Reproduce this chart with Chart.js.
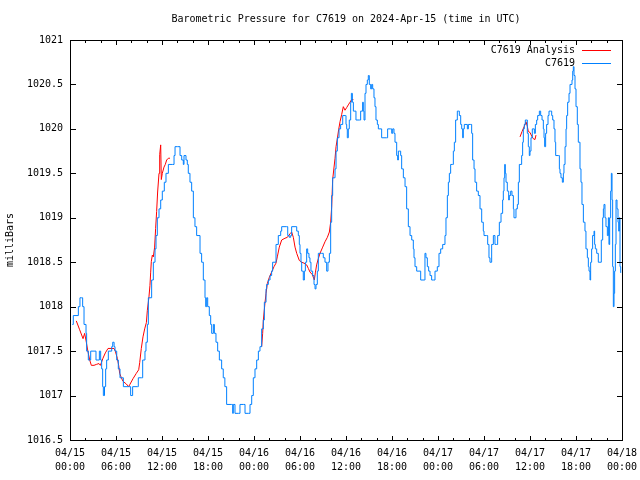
<!DOCTYPE html>
<html>
<head>
<meta charset="utf-8">
<title>Barometric Pressure for C7619</title>
<script src="https://cdn.jsdelivr.net/npm/chart.js@4.4.1/dist/chart.umd.min.js"></script>
<style>
  html, body { margin: 0; padding: 0; background: #fff; }
  #wrap { width: 640px; height: 480px; }
</style>
</head>
<body>
<div id="wrap"><canvas id="pressureChart" width="640" height="480"></canvas></div>
<script>
// hours since 2024-04-15 00:00 UTC
const stationHours = [
  0.3, 0.43, 1.09, 1.3, 1.52, 1.65, 1.83, 2.09, 2.17, 2.39, 2.7, 3.26, 3.39, 3.83, 4.0,
  4.13, 4.26, 4.35, 4.5, 4.65, 4.78, 5.0, 5.44, 5.57, 5.75, 5.87, 6.09, 6.3, 6.52, 6.96,
  7.61, 7.91, 8.17, 8.78, 8.91, 9.35, 9.48, 9.78, 9.91, 10.09, 10.22, 10.43, 10.65, 10.87, 11.09,
  11.22, 11.39, 11.61, 11.83, 12.04, 12.3, 12.52, 12.83, 13.39, 13.57, 13.7, 14.0, 14.35, 14.57, 14.78,
  14.87, 15.13, 15.3, 15.43, 15.65, 15.87, 16.09, 16.3, 16.52, 16.96, 17.17, 17.39, 17.61, 17.7, 17.83,
  17.96, 18.17, 18.35, 18.48, 18.7, 18.83, 19.04, 19.26, 19.48, 19.78, 19.99, 20.2, 20.43, 21.09, 21.22,
  21.3, 21.52, 21.96, 22.17, 22.61, 22.83, 23.26, 23.48, 23.7, 23.91, 24.13, 24.35, 24.57, 24.78, 25.0,
  25.22, 25.35, 25.57, 25.65, 25.87, 26.09, 26.3, 26.43, 26.74, 26.87, 27.17, 27.48, 27.61, 28.26, 28.4,
  28.6, 28.78, 28.91, 29.35, 29.57, 29.78, 29.91, 30.0, 30.13, 30.22, 30.43, 30.57, 30.7, 30.87, 31.0,
  31.17, 31.3, 31.43, 31.65, 31.83, 31.96, 32.09, 32.26, 32.39, 32.83, 33.04, 33.26, 33.48, 33.65, 33.83,
  34.0, 34.13, 34.26, 34.57, 34.7, 34.87, 35.09, 35.3, 35.57, 35.91, 36.0, 36.09, 36.17, 36.3, 36.43,
  36.61, 36.7, 36.83, 36.96, 37.17, 37.3, 37.74, 37.91, 38.17, 38.26, 38.35, 38.48, 38.61, 38.78, 38.91,
  39.04, 39.22, 39.35, 39.48, 39.65, 39.78, 39.91, 40.09, 40.22, 40.65, 41.3, 41.43, 41.83, 41.96, 42.09,
  42.26, 42.39, 42.61, 42.74, 42.83, 42.96, 43.13, 43.26, 43.48, 43.7, 43.91, 44.13, 44.35, 44.57, 44.78,
  44.87, 45.0, 45.22, 45.74, 46.22, 46.3, 46.43, 46.61, 46.78, 46.96, 47.17, 47.39, 47.61, 47.74, 47.91,
  48.13, 48.35, 48.61, 48.78, 48.91, 49.04, 49.22, 49.35, 49.48, 49.65, 49.91, 50.0, 50.13, 50.3, 50.52,
  50.65, 50.78, 50.96, 51.09, 51.22, 51.3, 51.43, 51.83, 51.96, 52.26, 52.39, 52.52, 52.7, 52.83, 53.04,
  53.26, 53.48, 53.7, 53.91, 54.0, 54.35, 54.48, 54.65, 54.78, 55.0, 55.22, 55.43, 55.65, 55.78, 56.0,
  56.22, 56.43, 56.52, 56.61, 56.7, 56.78, 56.87, 57.04, 57.22, 57.3, 57.48, 57.65, 57.83, 57.91, 58.17,
  58.35, 58.48, 58.61, 58.91, 59.04, 59.13, 59.26, 59.39, 59.57, 59.65, 59.78, 59.91, 60.0, 60.13, 60.3,
  60.57, 60.7, 60.87, 61.0, 61.22, 61.39, 61.57, 61.74, 61.83, 61.91, 62.04, 62.17, 62.35, 62.48, 62.7,
  62.83, 62.96, 63.13, 63.26, 63.35, 63.7, 63.83, 63.91, 64.04, 64.22, 64.35, 64.43, 64.57, 64.7, 64.78,
  64.91, 65.09, 65.22, 65.48, 65.57, 65.65, 65.74, 65.87, 66.0, 66.17, 66.3, 66.52, 66.65, 66.78, 66.96,
  67.17, 67.3, 67.48, 67.61, 67.7, 67.83, 67.91, 68.04, 68.17, 68.35, 68.43, 68.52, 68.7, 68.91, 69.13,
  69.3, 69.48, 69.57, 69.65, 69.78, 69.91, 70.09, 70.22, 70.3, 70.39, 70.52, 70.61, 70.7, 70.78, 70.87,
  70.96, 71.04, 71.13, 71.22, 71.35, 71.48, 71.57, 71.65, 71.74, 71.83
];
const stationValues = [
  1017.8, 1017.9, 1018.0, 1018.1, 1018.1, 1018.0, 1017.8, 1017.7, 1017.5, 1017.4, 1017.5, 1017.5, 1017.4, 1017.5, 1017.4,
  1017.3, 1017.1, 1017.0, 1017.1, 1017.3, 1017.4, 1017.5, 1017.55, 1017.6, 1017.55, 1017.5, 1017.4, 1017.3, 1017.2, 1017.1,
  1017.1, 1017.0, 1017.1, 1017.1, 1017.2, 1017.2, 1017.4, 1017.5, 1017.6, 1017.8, 1018.1, 1018.1, 1018.3, 1018.5, 1018.65,
  1018.8, 1019.0, 1019.1, 1019.2, 1019.3, 1019.4, 1019.5, 1019.6, 1019.6, 1019.7, 1019.8, 1019.8, 1019.7, 1019.65, 1019.6,
  1019.7, 1019.65, 1019.6, 1019.5, 1019.4, 1019.3, 1019.0, 1018.9, 1018.8, 1018.6, 1018.5, 1018.3, 1018.1, 1018.0, 1018.1,
  1018.0, 1017.9, 1017.8, 1017.7, 1017.8, 1017.7, 1017.6, 1017.5, 1017.4, 1017.3, 1017.2, 1017.1, 1016.9, 1016.9, 1016.8,
  1016.9, 1016.8, 1016.8, 1016.9, 1016.9, 1016.8, 1016.8, 1016.9, 1017.0, 1017.2, 1017.3, 1017.4, 1017.5, 1017.55, 1017.75,
  1017.85, 1018.05, 1018.2, 1018.25, 1018.3, 1018.35, 1018.4, 1018.5, 1018.5, 1018.7, 1018.8, 1018.85, 1018.9, 1018.9, 1018.8,
  1018.78, 1018.8, 1018.9, 1018.9, 1018.85, 1018.8, 1018.7, 1018.6, 1018.5, 1018.4, 1018.3, 1018.4, 1018.5, 1018.65, 1018.6,
  1018.55, 1018.5, 1018.4, 1018.35, 1018.25, 1018.2, 1018.25, 1018.4, 1018.6, 1018.6, 1018.55, 1018.5, 1018.4, 1018.5, 1018.6,
  1018.95, 1019.25, 1019.45, 1019.55, 1019.75, 1019.9, 1020.0, 1020.05, 1020.15, 1020.15, 1020.05, 1020.0, 1019.9, 1020.0, 1020.1,
  1020.3, 1020.4, 1020.3, 1020.2, 1020.2, 1020.1, 1020.1, 1020.2, 1020.3, 1020.2, 1020.1, 1020.4, 1020.5, 1020.55, 1020.6,
  1020.5, 1020.45, 1020.5, 1020.45, 1020.35, 1020.25, 1020.1, 1020.05, 1020.0, 1019.9, 1019.9, 1020.0, 1020.0, 1019.95, 1020.0,
  1019.95, 1019.85, 1019.7, 1019.65, 1019.75, 1019.75, 1019.7, 1019.55, 1019.45, 1019.35, 1019.1, 1018.9, 1018.8, 1018.75, 1018.65,
  1018.55, 1018.45, 1018.4, 1018.3, 1018.3, 1018.6, 1018.55, 1018.45, 1018.4, 1018.35, 1018.3, 1018.3, 1018.4, 1018.4, 1018.45,
  1018.6, 1018.65, 1018.7, 1018.7, 1018.8, 1019.0, 1019.25, 1019.4, 1019.5, 1019.6, 1019.6, 1019.75, 1019.85, 1020.1, 1020.2,
  1020.2, 1020.15, 1020.05, 1020.0, 1019.9, 1020.0, 1020.05, 1020.0, 1020.05, 1020.05, 1019.95, 1019.65, 1019.55, 1019.4, 1019.3,
  1019.25, 1019.1, 1018.95, 1018.85, 1018.8, 1018.8, 1018.7, 1018.55, 1018.5, 1018.7, 1018.8, 1018.7, 1018.7, 1018.8, 1018.95,
  1019.05, 1019.2, 1019.3, 1019.45, 1019.6, 1019.5, 1019.4, 1019.3, 1019.2, 1019.25, 1019.3, 1019.25, 1019.1, 1019.0, 1019.1,
  1019.15, 1019.4, 1019.6, 1019.7, 1019.85, 1020.0, 1020.05, 1020.1, 1020.1, 1019.95, 1019.8, 1019.7, 1019.75, 1019.9, 1020.0,
  1019.95, 1020.05, 1020.1, 1020.15, 1020.2, 1020.15, 1020.1, 1020.0, 1019.9, 1019.8, 1019.95, 1020.05, 1020.15, 1020.2, 1020.2,
  1020.15, 1020.1, 1020.0, 1019.85, 1019.7, 1019.7, 1019.55, 1019.5, 1019.45, 1019.4, 1019.5, 1019.6, 1019.8, 1020.0, 1020.15,
  1020.3, 1020.4, 1020.5, 1020.55, 1020.65, 1020.7, 1020.6, 1020.45, 1020.25, 1020.05, 1019.85, 1019.55, 1019.4, 1019.15, 1018.95,
  1018.85, 1018.65, 1018.55, 1018.45, 1018.4, 1018.3, 1018.5, 1018.65, 1018.8, 1018.85, 1018.7, 1018.65, 1018.6, 1018.5, 1018.5,
  1018.75, 1019.0, 1019.1, 1019.15, 1019.0, 1018.9, 1018.8, 1019.0, 1018.7, 1019.0, 1019.3, 1019.5, 1019.2, 1018.45, 1018.0,
  1018.15, 1018.4, 1018.7, 1019.2, 1019.1, 1018.95, 1018.85, 1019.0, 1018.45, 1018.38
];

// analysis run, null = no analysis for that stretch
const analysisHours = [
  0.82, 1.26, 1.7, 1.91, 2.13, 2.35, 2.57, 2.78, 3.13, 3.43, 3.78, 3.96, 4.09, 4.3, 4.61,
  4.96, 5.74, 5.91, 6.17, 6.35, 6.48, 6.7, 6.91, 7.35, 7.65, 7.78, 8.22, 8.65, 8.96, 9.09,
  9.3, 9.52, 9.74, 9.96, 10.09, 10.3, 10.43, 10.52, 10.61, 10.74, 10.87, 11.04, 11.17, 11.3, 11.43,
  11.61, 11.7, 11.83, 11.91, 12.04, 12.26, 12.43, 12.61, 12.83, 13.04, 13.5,
  25.0, 25.13, 25.22, 25.43, 25.57, 25.74, 26.0, 26.3, 26.61, 26.87, 27.04, 27.3, 27.61, 28.04, 28.35,
  28.7, 28.91, 29.13, 29.35, 29.57, 29.91, 30.22, 30.52, 30.87, 31.09, 31.3, 31.61, 31.87, 32.0, 32.17,
  32.39, 32.61, 32.96, 33.26, 33.57, 33.83, 34.0, 34.13, 34.26, 34.57, 34.7, 34.87, 35.04, 35.22, 35.43,
  35.65, 35.87, 36.09, 36.3, 36.52, 36.74, 36.96, 37.5,
  58.7, 58.96, 59.26, 59.48, 59.65, 59.78, 60.0, 60.22, 60.43, 60.65, 60.78
];
const analysisValues = [
  1017.84, 1017.74, 1017.64, 1017.7, 1017.6, 1017.49, 1017.4, 1017.34, 1017.34, 1017.35, 1017.36, 1017.34, 1017.37, 1017.42, 1017.48,
  1017.53, 1017.53, 1017.5, 1017.42, 1017.34, 1017.25, 1017.2, 1017.16, 1017.13, 1017.1, 1017.12, 1017.19, 1017.25, 1017.29, 1017.37,
  1017.53, 1017.66, 1017.75, 1017.82, 1017.96, 1018.11, 1018.24, 1018.38, 1018.51, 1018.58, 1018.56, 1018.67, 1018.88, 1019.07, 1019.29,
  1019.5, 1019.71, 1019.82, 1019.43, 1019.5, 1019.57, 1019.6, 1019.65, 1019.67, 1019.67, null,
  1017.55, 1017.7, 1017.85, 1018.04, 1018.15, 1018.26, 1018.33, 1018.39, 1018.45, 1018.49, 1018.56, 1018.67, 1018.75, 1018.77, 1018.78,
  1018.82, 1018.84, 1018.78, 1018.67, 1018.6, 1018.52, 1018.5, 1018.49, 1018.47, 1018.43, 1018.39, 1018.36, 1018.3, 1018.38, 1018.47,
  1018.54, 1018.6, 1018.67, 1018.73, 1018.78, 1018.84, 1018.95, 1019.12, 1019.43, 1019.67, 1019.8, 1019.89, 1019.99, 1020.08, 1020.16,
  1020.25, 1020.21, 1020.24, 1020.27, 1020.3, 1020.33, 1020.33, null,
  1019.91, 1019.97, 1020.03, 1020.08, 1020.03, 1019.97, 1019.96, 1019.92, 1019.89, 1019.88, 1019.93
];

// x labels every 6 hours
const tickDates = ['04/15', '04/15', '04/15', '04/15', '04/16', '04/16', '04/16', '04/16', '04/17', '04/17', '04/17', '04/17', '04/18'];
const tickTimes = ['00:00', '06:00', '12:00', '18:00', '00:00', '06:00', '12:00', '18:00', '00:00', '06:00', '12:00', '18:00', '00:00'];

const monoFont = '"DejaVu Sans Mono", "Liberation Mono", monospace';

function toPoints(hours, values) {
    return hours.map((h, i) => ({ x: h, y: values[i] }));
}

// gnuplot style frame: box, inward ticks on all sides, key in the top right corner
const gnuplotFrame = {
    id: 'gnuplotFrame',
    afterDraw(chart) {
        const ctx = chart.ctx;
        const a = chart.chartArea;
        const xs = chart.scales.x;
        const ys = chart.scales.y;
        ctx.save();
        ctx.strokeStyle = '#000';
        ctx.lineWidth = 1;
        ctx.beginPath();
        ctx.rect(a.left + 0.5, a.top + 0.5, a.right - a.left, a.bottom - a.top);

        ys.ticks.forEach(t => {
            let py = Math.round(ys.getPixelForValue(t.value)) + 0.5;
            ctx.moveTo(a.left, py); ctx.lineTo(a.left + 6, py);
            ctx.moveTo(a.right + 1, py); ctx.lineTo(a.right - 5, py);
        });

        // minor ticks every 2 hours, major every 6
        for (let h = xs.min; h <= xs.max; h += 2) {
            let len = (h % 6 === 0) ? 5 : 3;
            let px = Math.round(xs.getPixelForValue(h)) + 0.5;
            ctx.moveTo(px, a.bottom + 1); ctx.lineTo(px, a.bottom + 1 - len);
            ctx.moveTo(px, a.top); ctx.lineTo(px, a.top + len);
        }
        ctx.stroke();

        // key
        ctx.font = '10px ' + monoFont;
        ctx.fillStyle = '#000';
        ctx.textAlign = 'right';
        ctx.textBaseline = 'middle';
        chart.data.datasets.forEach((ds, i) => {
            let ky = a.top + 10 + i * 13;
            ctx.fillText(ds.label, a.right - 47, ky);
            ctx.beginPath();
            ctx.strokeStyle = ds.borderColor;
            ctx.moveTo(a.right - 40, ky + 0.5);
            ctx.lineTo(a.right - 11, ky + 0.5);
            ctx.stroke();
        });
        ctx.restore();
    }
};

new Chart(document.getElementById('pressureChart'), {
    type: 'line',
    data: {
        datasets: [
            {
                label: 'C7619 Analysis',
                data: toPoints(analysisHours, analysisValues),
                borderColor: 'rgb(255, 0, 0)',
                borderWidth: 1,
                pointRadius: 0,
                fill: false,
                order: 2
            },
            {
                label: 'C7619',
                data: toPoints(stationHours, stationValues),
                borderColor: 'rgb(0, 128, 255)',
                borderWidth: 1,
                pointRadius: 0,
                fill: false,
                stepped: true,
                order: 1
            }
        ]
    },
    options: {
        responsive: false,
        animation: false,
        events: [],
        layout: { padding: { left: 0, right: 18, top: 0, bottom: 0 } },
        plugins: {
            legend: { display: false },
            tooltip: { enabled: false },
            title: {
                display: true,
                text: 'Barometric Pressure for C7619 on 2024-Apr-15 (time in UTC)',
                color: '#000',
                fullSize: false,
                font: { family: monoFont, size: 10, weight: 'normal', lineHeight: 1.2 },
                padding: { top: 13, bottom: 15 }
            }
        },
        scales: {
            x: {
                type: 'linear',
                min: 0,
                max: 72,
                afterFit: s => { s.height = 40; },
                // tick marks are drawn by the frame plugin; tickLength only offsets the labels
                grid: { display: false, drawTicks: true, tickLength: 6 },
                border: { display: false },
                ticks: {
                    stepSize: 6,
                    autoSkip: false,
                    maxRotation: 0,
                    padding: 0,
                    color: '#000',
                    font: { family: monoFont, size: 10, lineHeight: 1.4 },
                    callback: v => {
                        let i = Math.round(v / 6);
                        return [tickDates[i], tickTimes[i]];
                    }
                }
            },
            y: {
                min: 1016.5,
                max: 1021,
                afterFit: s => { s.width = 70; },
                grid: { display: false, drawTicks: false },
                border: { display: false },
                ticks: {
                    stepSize: 0.5,
                    padding: 7,
                    color: '#000',
                    font: { family: monoFont, size: 10 },
                    callback: v => String(v)
                },
                title: {
                    display: true,
                    text: 'milliBars',
                    color: '#000',
                    font: { family: monoFont, size: 10, lineHeight: 1.2 },
                    padding: { top: 4, bottom: 0 }
                }
            }
        }
    },
    plugins: [gnuplotFrame]
});
</script>
</body>
</html>
